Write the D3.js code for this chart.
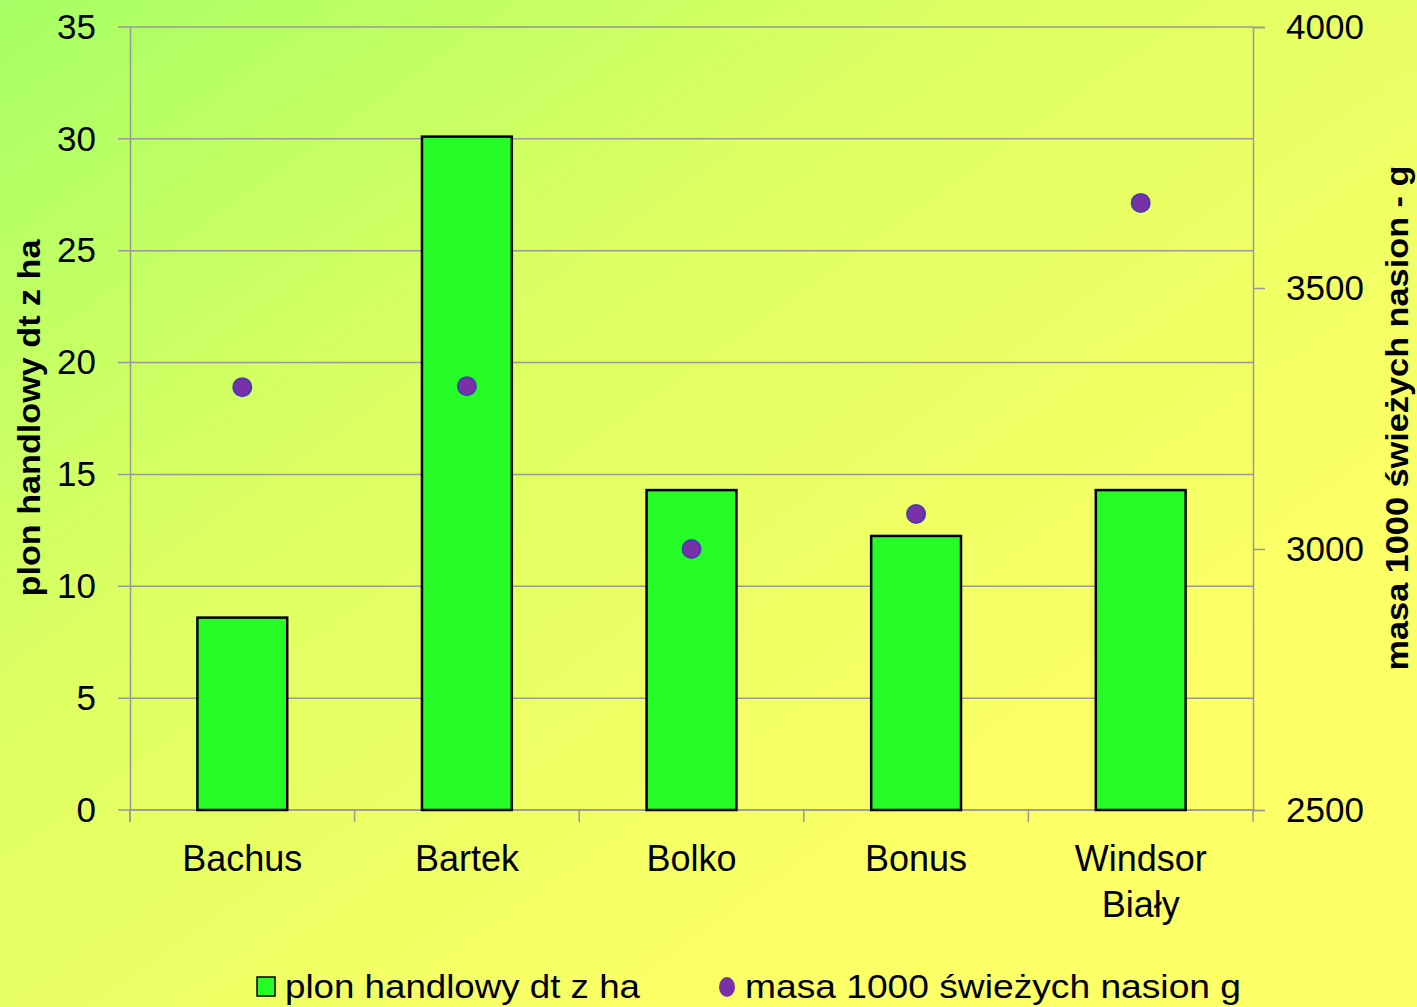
<!DOCTYPE html>
<html><head><meta charset="utf-8">
<script src="https://cdn.jsdelivr.net/npm/d3@7"></script>
<style>html,body{margin:0;padding:0;overflow:hidden}svg{display:block}</style>
</head><body>
<script>
const categories = [["Bachus"],["Bartek"],["Bolko"],["Bonus"],["Windsor","Biały"]];
const plon = [8.6, 30.1, 14.3, 12.25, 14.3];
const masa = [3310, 3312, 3000, 3067, 3663];
const leftTicks = [0,5,10,15,20,25,30,35];
const rightTicks = [2500,3000,3500,4000];
const seriesNames = ["plon handlowy dt z ha","masa 1000 świeżych nasion g"];
const leftTitle = "plon handlowy dt z ha";
const rightTitle = "masa 1000 świeżych nasion - g";

const W=1417,H=1007;
const m={l:130,r:1253,t:27,b:810};
const svg=d3.select("body").append("svg").attr("width",W).attr("height",H);
const defs=svg.append("defs");
const g=defs.append("linearGradient").attr("id","bg").attr("x1","0").attr("y1","0").attr("x2","0.75").attr("y2","0.75");
g.append("stop").attr("offset","0").attr("stop-color","#a6ff66");
g.append("stop").attr("offset","0.45").attr("stop-color","#dcff62");
g.append("stop").attr("offset","1").attr("stop-color","#fcff66");
svg.append("rect").attr("width",W).attr("height",H).attr("fill","url(#bg)");

const x=d3.scaleBand().domain(categories.map(c=>c.join(" "))).range([m.l,m.r]).paddingInner(0.6).paddingOuter(0.3);
const yL=d3.scaleLinear().domain([0,35]).range([m.b,m.t]);
const yR=d3.scaleLinear().domain([2500,4000]).range([m.b,m.t]);
const font="Liberation Sans, Arial, sans-serif";

// gridlines
svg.append("g").selectAll("line").data(leftTicks).join("line")
 .attr("x1",m.l-12).attr("x2",m.r).attr("y1",d=>yL(d)).attr("y2",d=>yL(d))
 .attr("stroke","#999").attr("stroke-width",1.5);
// left axis
const la=svg.append("g").attr("transform",`translate(${m.l},0)`).call(d3.axisLeft(yL).tickValues(leftTicks).tickSize(0).tickPadding(34));
la.select(".domain").attr("stroke","#999").attr("stroke-width",1.5);
la.selectAll("text").attr("font-family",font).attr("font-size",35).attr("fill","#000");
svg.append("line").attr("x1",m.l).attr("x2",m.l).attr("y1",m.b).attr("y2",m.b+12).attr("stroke","#999").attr("stroke-width",1.5);
// right axis
const ra=svg.append("g").attr("transform",`translate(${m.r},0)`).call(d3.axisRight(yR).tickValues(rightTicks).tickFormat(d3.format("d")).tickSize(12).tickPadding(21));
ra.select(".domain").attr("stroke","#999").attr("stroke-width",1.5);
ra.selectAll("line").attr("stroke","#999").attr("stroke-width",1.5);
ra.selectAll("text").attr("font-family",font).attr("font-size",35).attr("fill","#000");
// x axis category boundaries
const step=x.step();
const bounds=d3.range(categories.length+1).map(i=>m.l+i*step);
svg.append("g").selectAll("line").data(bounds).join("line")
 .attr("x1",d=>d).attr("x2",d=>d).attr("y1",m.b).attr("y2",m.b+12).attr("stroke","#999").attr("stroke-width",1.5);
svg.append("line").attr("x1",m.l).attr("x2",m.r).attr("y1",m.b).attr("y2",m.b).attr("stroke","#999").attr("stroke-width",1.5);

// bars
svg.append("g").selectAll("rect").data(plon).join("rect")
 .attr("x",(d,i)=>x(categories[i].join(" "))).attr("width",x.bandwidth())
 .attr("y",d=>yL(d)).attr("height",d=>yL(0)-yL(d))
 .attr("fill","#26fc26").attr("stroke","#000").attr("stroke-width",2.5);
// dots
svg.append("g").selectAll("circle").data(masa).join("circle")
 .attr("cx",(d,i)=>x(categories[i].join(" "))+x.bandwidth()/2).attr("cy",d=>yR(d)).attr("r",9)
 .attr("fill","#7a30a6").attr("stroke","#4a3cb0").attr("stroke-width",2);

// category labels
const cl=svg.append("g").selectAll("text").data(categories).join("text")
 .attr("x",(d,i)=>x(d.join(" "))+x.bandwidth()/2).attr("y",871)
 .attr("text-anchor","middle").attr("font-family",font).attr("font-size",36).attr("fill","#000");
cl.selectAll("tspan").data(d=>d).join("tspan").attr("x",function(){return this.parentNode.getAttribute("x");})
 .attr("dy",(d,i)=>i?46:0).text(d=>d);

// axis titles
svg.append("text").attr("transform",`translate(40,${418}) rotate(-90)`).attr("text-anchor","middle")
 .attr("font-family",font).attr("font-weight","bold").attr("font-size",31)
 .attr("textLength",357).attr("lengthAdjust","spacingAndGlyphs").text(leftTitle);
svg.append("text").attr("transform",`translate(1408,${418}) rotate(-90)`).attr("text-anchor","middle")
 .attr("font-family",font).attr("font-weight","bold").attr("font-size",31)
 .attr("textLength",505).attr("lengthAdjust","spacingAndGlyphs").text(rightTitle);

// legend
const lg=svg.append("g");
lg.append("rect").attr("x",257).attr("y",977).attr("width",18).attr("height",19).attr("fill","#26fc26").attr("stroke","#000").attr("stroke-width",1.5);
lg.append("text").attr("x",285).attr("y",998).attr("font-family",font).attr("font-size",34).attr("textLength",355).attr("lengthAdjust","spacingAndGlyphs").text(seriesNames[0]);
lg.append("ellipse").attr("cx",727).attr("cy",987).attr("rx",8).attr("ry",10).attr("fill","#7a30a6");
lg.append("text").attr("x",745).attr("y",998).attr("font-family",font).attr("font-size",34).attr("textLength",496).attr("lengthAdjust","spacingAndGlyphs").text(seriesNames[1]);
</script>
</body></html>
